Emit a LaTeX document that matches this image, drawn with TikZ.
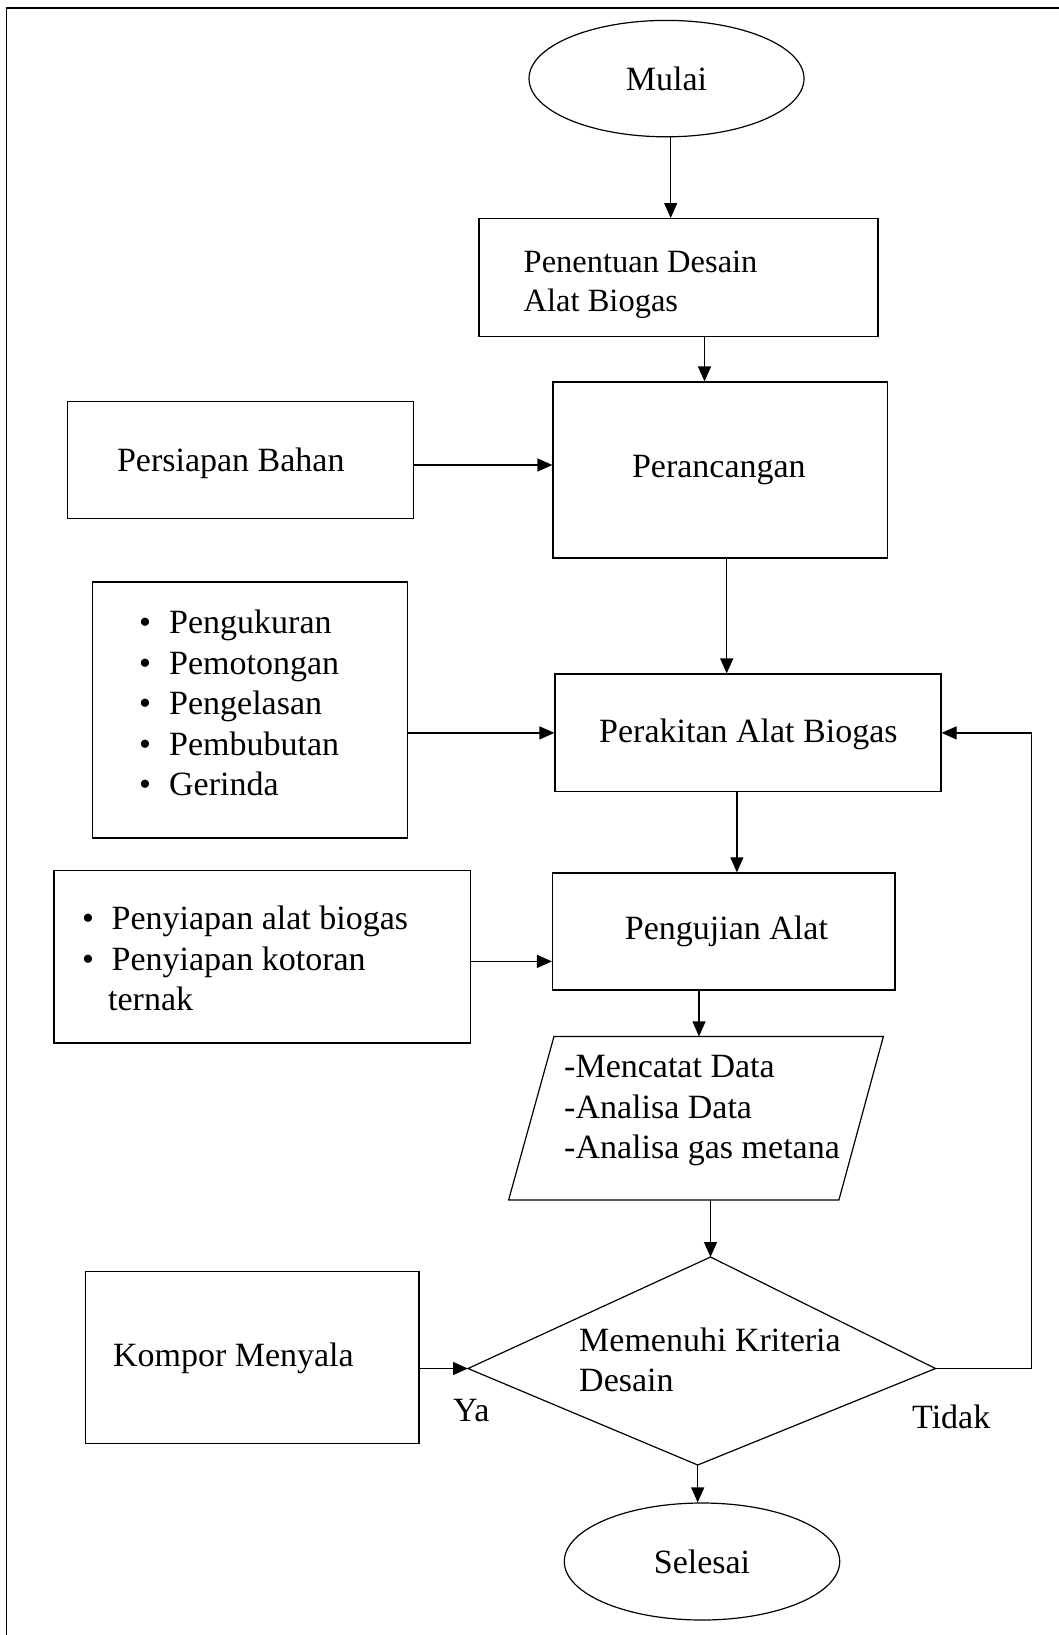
\documentclass[tikz,border=0pt]{standalone}
\usepackage{fontspec}
\setmainfont{Liberation Serif}
\usetikzlibrary{shapes.geometric,arrows.meta}
\begin{document}
\begin{tikzpicture}[x=1pt,y=-1pt,
  every node/.style={font=\fontsize{34}{40.5}\selectfont},
  box/.style={draw, line width=1.2pt, rectangle, inner sep=0pt},
  oval/.style={draw, line width=1.2pt, ellipse, inner sep=0pt},
  lbl/.style={inner sep=0pt, anchor=base west},
  blk/.style={inner sep=0pt, anchor=north west, align=left},
  arr/.style={line width=1.2pt, -{Triangle[length=15pt,width=13pt]}},
  ln/.style={line width=1.2pt}]
\useasboundingbox (0,0) rectangle (1059,1635);
% frame (left and top only)
\draw[line width=1.5pt] (6.5,1635) -- (6.5,8) -- (1059,8);

% shapes
\node[oval, minimum width=275pt, minimum height=116.4pt] (mulai) at (666.5,78.6) {Mulai};
\node[box, minimum width=399pt, minimum height=117.8pt] (pen) at (678.5,277.5) {};
\node[box, minimum width=334.5pt, minimum height=175.9pt] (peran) at (720.25,469.95) {};
\node[box, minimum width=345.9pt, minimum height=116.8pt] (pers) at (240.45,460.2) {};
\node[box, minimum width=386pt, minimum height=117.8pt] (perak) at (748,732.9) {};
\node[box, minimum width=314.8pt, minimum height=256pt] (b1) at (249.9,710) {};
\node[box, minimum width=342.5pt, minimum height=117.1pt] (peng) at (723.75,931.45) {};
\node[box, minimum width=416.8pt, minimum height=172.5pt] (peny) at (262.4,956.65) {};
\node[box, minimum width=333.1pt, minimum height=172pt] (komp) at (252.35,1357.5) {};
\node[oval, minimum width=275.4pt, minimum height=117pt] (sel) at (702,1561.5) {Selesai};

\coordinate (pTL) at (554,1036.4);
\coordinate (pTR) at (883.4,1036.4);
\coordinate (pBR) at (838.9,1200);
\coordinate (pBL) at (508.6,1200);
\draw[ln] (pTL) -- (pTR) -- (pBR) -- (pBL) -- cycle;

\coordinate (dT) at (710.5,1257);
\coordinate (dL) at (468,1368.5);
\coordinate (dR) at (935.5,1368.5);
\coordinate (dB) at (697.7,1465);
\draw[ln] (dT) -- (dR) -- (dB) -- (dL) -- cycle;

% texts
\node[blk, font=\fontsize{32.5}{39.5}\selectfont] (tpen) at (523.5,244.4) {\strut Penentuan Desain\\Alat Biogas};
\node[lbl] (tperan) at (631.8,477) {Perancangan};
\node[lbl] (tpers) at (116.8,471) {Persiapan Bahan};
\node[lbl] (tperak) at (599,742) {Perakitan Alat Biogas};
\node[blk] (tb1) at (139,605.15) {\strut\makebox[30pt][l]{•}Pengukuran\\\makebox[30pt][l]{•}Pemotongan\\\makebox[30pt][l]{•}Pengelasan\\\makebox[30pt][l]{•}Pembubutan\\\makebox[30pt][l]{•}Gerinda};
\node[lbl] (tpeng) at (624.7,939) {Pengujian Alat};
\node[blk] (tb2) at (81.8,901.15) {\strut\makebox[29.7pt][l]{•}Penyiapan alat biogas\\\makebox[29.7pt][l]{•}Penyiapan kotoran\\\hspace*{26.2pt}ternak};
\node[blk] (tpara) at (564,1049.15) {\strut -Mencatat Data\\-Analisa Data\\-Analisa gas metana};
\node[blk] (tdia) at (579,1322.65) {\strut Memenuhi Kriteria\\Desain};
\node[lbl] (tkomp) at (112.8,1366.5) {Kompor Menyala};
\node[lbl] (tya) at (453,1421.7) {Ya};
\node[lbl] (ttidak) at (912,1428.7) {Tidak};

% column / row helpers
\coordinate (c1) at (670.7,0);
\coordinate (c2) at (704.5,0);
\coordinate (c3) at (726.7,0);
\coordinate (c4) at (736.9,0);
\coordinate (c5) at (699,0);
\coordinate (r1) at (0,465);
\coordinate (r3) at (0,961.4);
\coordinate (fb) at (1031.5,0);

% connectors
\draw[arr] (mulai.south -| c1) -- (pen.north -| c1);
\draw[arr] (pen.south -| c2) -- (peran.north -| c2);
\draw[arr] (pers.east |- r1) -- (peran.west |- r1);
\draw[arr] (peran.south -| c3) -- (perak.north -| c3);
\draw[arr] (b1.east |- perak.west) -- (perak.west);
\draw[arr] (perak.south -| c4) -- (peng.north -| c4);
\draw[arr] (peny.east |- r3) -- (peng.west |- r3);
\draw[arr] (peng.south -| c5) -- (pTL -| c5);
\draw[arr] (pBL -| dT) -- (dT);
\draw[arr] (komp.east |- dL) -- (dL);
\draw[arr] (dR) -- (dR -| fb) -- (perak.east -| fb) -- (perak.east);
\draw[arr] (dB) -- (dB |- sel.north);
\end{tikzpicture}
\end{document}
